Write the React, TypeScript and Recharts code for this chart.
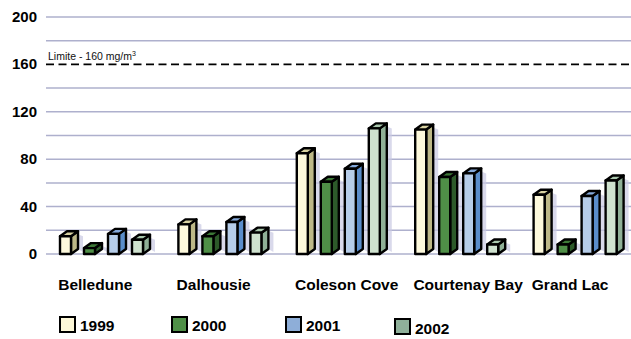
import React from "react"
import {
  BarChart,
  Bar,
  XAxis,
  YAxis,
  CartesianGrid,
  ReferenceLine,
  Legend,
} from "recharts"

// stations and yearly values (mg/m³)
const stations = ["Belledune", "Dalhousie", "Coleson Cove", "Courtenay Bay", "Grand Lac"]
const years = ["1999", "2000", "2001", "2002"]
const v1999 = [15, 25, 85, 105, 50]
const v2000 = [5, 15, 61, 65, 8]
const v2001 = [17, 27, 72, 68, 49]
const v2002 = [12, 18, 106, 8, 62]
const yTicks = [0, 40, 80, 120, 160, 200]
const gridValues = [0, 20, 40, 60, 80, 100, 120, 140, 180, 200]
const limit = 160

const series = [v1999, v2000, v2001, v2002]

const palette = [
  { front: "#fdf9dc", side: "#bdb887", top: "#d8d2a2", legend: "#fdf8d8" },
  { front: "#4f8f47", side: "#2d5a2a", top: "#3c7836", legend: "#4f8f47" },
  { front: "#b6cde9", side: "#5a8dcb", top: "#85a9da", legend: "#8eaed8" },
  { front: "#cfe2cf", side: "#8fb097", top: "#a9c7ad", legend: "#8fb09a" },
]

const legendX = [59, 171, 285, 394]

const data = stations.map((name, i) => {
  const row: Record<string, string | number> = { name }
  years.forEach((yr, j) => {
    row[yr] = series[j][i]
  })
  return row
})

const FONT = "'Liberation Sans', Arial, sans-serif"
const DX = 7
const DY = 5

function make3DBar(colors: { front: string; side: string; top: string }) {
  return (props: any) => {
    const { x, y, width, height } = props
    if (height == null || width == null) return null
    const fw = width - DX
    const x2 = x + fw
    const yb = y + height
    return (
      <g strokeLinejoin="round">
        {/* soft shadow behind the side */}
        <polygon
          points={`${x2 + DX},${y - DY + 3} ${x2 + DX + 5},${y - DY + 5} ${x2 + DX + 5},${yb - 2} ${x2 + DX},${yb - DY}`}
          fill="#c9c9e2"
          opacity={0.7}
        />
        <polygon
          points={`${x2},${y} ${x2 + DX},${y - DY} ${x2 + DX},${yb - DY} ${x2},${yb}`}
          fill={colors.side}
          stroke="#000"
          strokeWidth={2.4}
        />
        <polygon
          points={`${x},${y} ${x + DX},${y - DY} ${x2 + DX},${y - DY} ${x2},${y}`}
          fill={colors.top}
          stroke="#000"
          strokeWidth={2.4}
        />
        <rect x={x} y={y} width={fw} height={height} fill={colors.front} stroke="#000" strokeWidth={2.4} />
      </g>
    )
  }
}

const YTick = ({ x, y, payload }: any) => (
  <text x={x} y={y} dy={5} textAnchor="end" fontFamily={FONT} fontWeight="bold" fontSize={15} fill="#000">
    {payload.value}
  </text>
)

const XTick = ({ x, payload }: any) => (
  <text x={x - 47} y={290} textAnchor="start" fontFamily={FONT} fontWeight="bold" fontSize={15.5} fill="#000">
    {payload.value}
  </text>
)

const LimitLabel = ({ viewBox }: any) => (
  <text x={viewBox.x + 2} y={viewBox.y - 4} fontFamily={FONT} fontSize={10.5} fill="#111">
    Limite - 160 mg/m
    <tspan fontSize={7} dy={-4}>3</tspan>
  </text>
)

const YearLegend = () => (
  <div style={{ position: "relative", width: 631, height: 50, fontFamily: FONT }}>
    {years.map((yr, i) => (
      <React.Fragment key={yr}>
        <div
          style={{
            position: "absolute",
            left: legendX[i],
            top: i === 3 ? 29 : 27,
            width: 13,
            height: 13,
            background: palette[i].legend,
            border: "2px solid #000",
          }}
        />
        <div
          style={{
            position: "absolute",
            left: legendX[i] + 21,
            top: i === 3 ? 31 : 28,
            fontSize: 15.5,
            fontWeight: "bold",
            lineHeight: "17px",
            color: "#000",
          }}
        >
          {yr}
        </div>
      </React.Fragment>
    ))}
  </div>
)

export default function App() {
  return (
    <div
      style={{
        position: "absolute",
        left: 0,
        top: 0,
        width: 631,
        height: 339,
        overflow: "hidden",
        background: "#fff",
      }}
    >
      <BarChart
        width={640}
        height={339}
        data={data}
        margin={{ top: 17, right: 2, bottom: 0, left: 0 }}
        barSize={18}
        barGap={6}
      >
        <CartesianGrid
          vertical={false}
          horizontalValues={gridValues}
          stroke="#aeb0cd"
          strokeWidth={1.5}
        />
        <XAxis
          dataKey="name"
          height={35}
          axisLine={false}
          tickLine={false}
          tick={<XTick />}
          interval={0}
        />
        <YAxis
          width={46}
          domain={[0, 200]}
          ticks={yTicks}
          axisLine={false}
          tickLine={false}
          tickSize={0}
          tickMargin={9}
          tick={<YTick />}
        />
        <ReferenceLine
          y={limit}
          stroke="#000"
          strokeWidth={1.8}
          strokeDasharray="8 4.5"
          label={<LimitLabel />}
        />
        {years.map((yr, i) => (
          <Bar
            key={yr}
            dataKey={yr}
            shape={make3DBar(palette[i])}
            isAnimationActive={false}
          />
        ))}
        <Legend
          verticalAlign="bottom"
          content={<YearLegend />}
          wrapperStyle={{ left: 0, bottom: 0, width: 631, height: 50 }}
        />
      </BarChart>
    </div>
  )
}
